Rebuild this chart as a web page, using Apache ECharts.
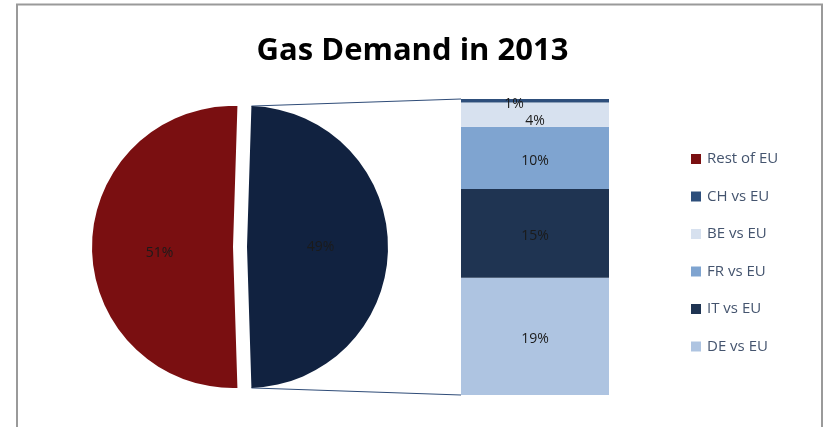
<!DOCTYPE html>
<html>
<head>
<meta charset="utf-8">
<script src="https://cdn.jsdelivr.net/npm/echarts@6/dist/echarts.min.js"></script>
<style>
  html, body { margin: 0; padding: 0; background: #ffffff; }
  #chart { width: 825px; height: 427px; }
</style>
</head>
<body>
<div id="chart"></div>
<script>
// Gas demand 2013: share of the EU total, with the highlighted half broken down by country
const pieNames = ['Gas users', 'Rest of EU'];
const restOfEU = 51;

const barNames = ['DE vs EU', 'IT vs EU', 'FR vs EU', 'BE vs EU', 'CH vs EU'];
const barValues = [19.4, 14.7, 10.3, 4.0, 0.6];

const legendOrder = ['Rest of EU', 'CH vs EU', 'BE vs EU', 'FR vs EU', 'IT vs EU', 'DE vs EU'];

const barColors = {
  'DE vs EU': '#aec4e1',
  'IT vs EU': '#1f3452',
  'FR vs EU': '#7fa4d0',
  'BE vs EU': '#d7e1ef',
  'CH vs EU': '#2d4e7b'
};
const labelShift = {
  'CH vs EU': [-21, 3],
  'BE vs EU': [0, 6]
};

const detailTotal = barValues.reduce((a, b) => a + b, 0);
const pct = v => Math.round(v) + '%';

const FONT = 'Open Sans';
const PIE_C = [233, 247];
const PIE_R = 141;
const EXPLODE = 14;
const GRID = { left: 461, top: 99, width: 148, height: 296 };
const startAngle = detailTotal / (detailTotal + restOfEU) * 180;

const chart = echarts.init(document.getElementById('chart'));

const valueLabel = offset => ({
  show: true,
  position: 'inside',
  offset: offset || [0, 3],
  formatter: p => pct(p.value),
  color: '#1b1b1b',
  fontFamily: FONT,
  fontSize: 14
});

const barSeries = barNames.map((name, i) => ({
  name: name,
  type: 'bar',
  stack: 'detail',
  barWidth: '100%',
  data: [barValues[i]],
  itemStyle: { color: barColors[name] },
  label: valueLabel(labelShift[name]),
  emphasis: { disabled: true }
}));

chart.setOption({
  animation: false,
  backgroundColor: '#ffffff',
  title: {
    text: 'Gas Demand in 2013',
    left: 'center',
    top: 31,
    textStyle: { fontFamily: FONT, fontWeight: 'bold', fontSize: 31, color: '#000000' }
  },
  legend: {
    orient: 'vertical',
    left: 686,
    top: 146,
    itemWidth: 10,
    itemHeight: 10,
    itemGap: 21.5,
    icon: 'rect',
    data: legendOrder,
    selectedMode: false,
    textStyle: { fontFamily: FONT, fontSize: 15, color: '#44546e', lineHeight: 16, padding: [0, 0, 0, 1] }
  },
  grid: Object.assign({ containLabel: false }, GRID),
  xAxis: { type: 'category', data: ['detail'], show: false },
  yAxis: { type: 'value', min: 0, max: detailTotal, show: false },
  series: [
    {
      type: 'pie',
      center: PIE_C,
      radius: PIE_R,
      startAngle: startAngle,
      clockwise: true,
      selectedMode: 'single',
      selectedOffset: EXPLODE,
      silent: true,
      data: [
        { name: pieNames[0], value: detailTotal, selected: true, itemStyle: { color: '#112240' } },
        { name: pieNames[1], value: restOfEU, itemStyle: { color: '#7a0f11' } }
      ],
      label: valueLabel([0, 6]),
      labelLine: { show: false },
      emphasis: { disabled: true }
    }
  ].concat(barSeries)
});

// Connector lines from the exploded slice edges to the corners of the breakdown bar
function drawConnectors() {
  const a = startAngle * Math.PI / 180;
  const cx = PIE_C[0] + EXPLODE;
  const cy = PIE_C[1];
  const topPt = [cx + PIE_R * Math.cos(a), cy - PIE_R * Math.sin(a)];
  const botPt = [cx + PIE_R * Math.cos(a), cy + PIE_R * Math.sin(a)];
  const barTop = chart.convertToPixel({ yAxisIndex: 0 }, detailTotal);
  const barBot = chart.convertToPixel({ yAxisIndex: 0 }, 0);
  const x = GRID.left;
  const line = (p, q) => ({
    type: 'line',
    shape: { x1: p[0], y1: p[1], x2: q[0], y2: q[1] },
    style: { stroke: '#2f4c78', lineWidth: 1 },
    silent: true
  });
  chart.setOption({
    graphic: [
      line(topPt, [x, barTop]),
      line(botPt, [x, barBot]),
      {
        type: 'rect',
        shape: { x: 17, y: 4.5, width: 805, height: 440 },
        style: { fill: null, stroke: '#9a9a9a', lineWidth: 2 },
        silent: true
      }
    ]
  });
}
drawConnectors();
</script>
</body>
</html>
